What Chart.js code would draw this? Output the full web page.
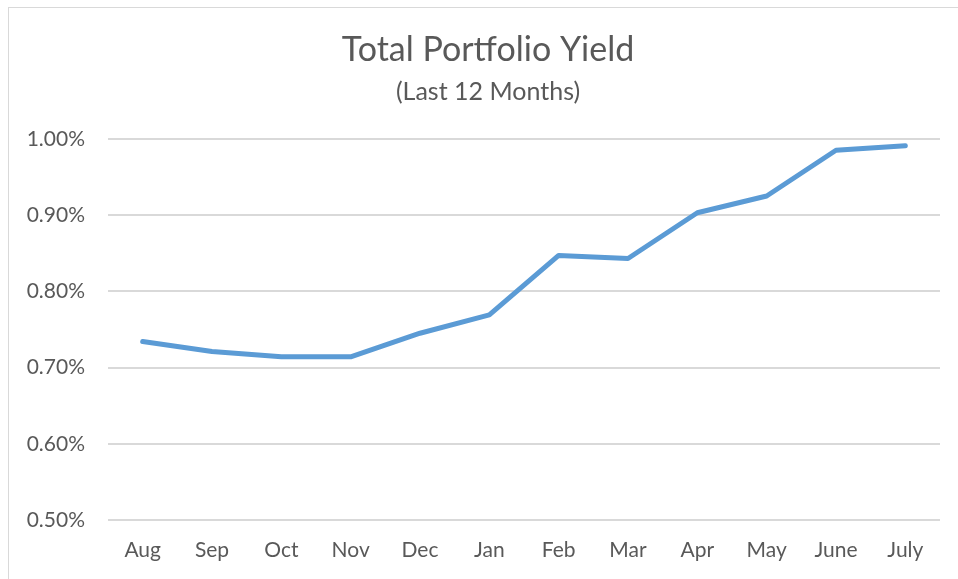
<!DOCTYPE html>
<html><head><meta charset="utf-8">
<script src="https://cdn.jsdelivr.net/npm/chart.js@4"></script>
<style>
html,body{margin:0;padding:0;background:#fff;}
#wrap{position:absolute;left:0;top:0;width:958px;height:579px;}
#frame{position:absolute;left:8px;top:7px;width:960px;height:600px;border:1px solid #d9d9d9;box-sizing:border-box;}
canvas{position:absolute;left:0;top:0;}
</style></head>
<body>
<div id="wrap"><div id="frame"></div><canvas id="c" width="958" height="579"></canvas></div>
<script>
const categories = ["Aug","Sep","Oct","Nov","Dec","Jan","Feb","Mar","Apr","May","June","July"];
const yieldValues = [0.734, 0.721, 0.714, 0.714, 0.745, 0.769, 0.847, 0.843, 0.903, 0.925, 0.985, 0.991];
const titleText = "Total Portfolio Yield";
const subtitleText = "(Last 12 Months)";
const FONT = "Lato, 'Open Sans', sans-serif";
const TXT = "#595959";
new Chart(document.getElementById('c'), {
  type: 'line',
  data: { labels: categories, datasets: [{ data: yieldValues, yAxisID: 'y', borderColor: '#5b9bd5', borderWidth: 5, pointRadius: 0, tension: 0, borderCapStyle: 'round', borderJoinStyle: 'round', fill: false }] },
  options: {
    responsive: false, animation: false, devicePixelRatio: 1,
    layout: { padding: { left: 18, right: 0, top: 0, bottom: 0 } },
    plugins: {
      legend: { display: false }, tooltip: { enabled: false },
      title: { display: true, text: titleText, color: TXT, font: { family: FONT, size: 34, weight: 'normal' }, padding: { top: 30, bottom: 4 } },
      subtitle: { display: true, text: subtitleText, color: TXT, font: { family: FONT, size: 25, weight: 'normal' }, padding: { top: 2, bottom: 32 } }
    },
    scales: {
      x: { offset: true, grid: { display: false, drawTicks: false }, border: { display: false },
           ticks: { color: TXT, font: { family: FONT, size: 21 }, padding: 18, maxRotation: 0, autoSkip: false },
           afterFit: s => { s.height = 59; } },
      y: { min: 0.5, max: 1.0, grid: { color: '#d9d9d9', lineWidth: 2, drawTicks: false }, border: { display: false },
           ticks: { stepSize: 0.1, color: TXT, font: { family: FONT, size: 21 }, padding: 23, callback: v => v.toFixed(2) + '%' },
           afterFit: s => { s.width = 90; } },
      yRight: { position: 'right', min: 0.5, max: 1.0, grid: { display: false, drawTicks: false }, border: { display: false },
           ticks: { display: false }, afterFit: s => { s.width = 18; } }
    }
  }
});
</script>
</body></html>
